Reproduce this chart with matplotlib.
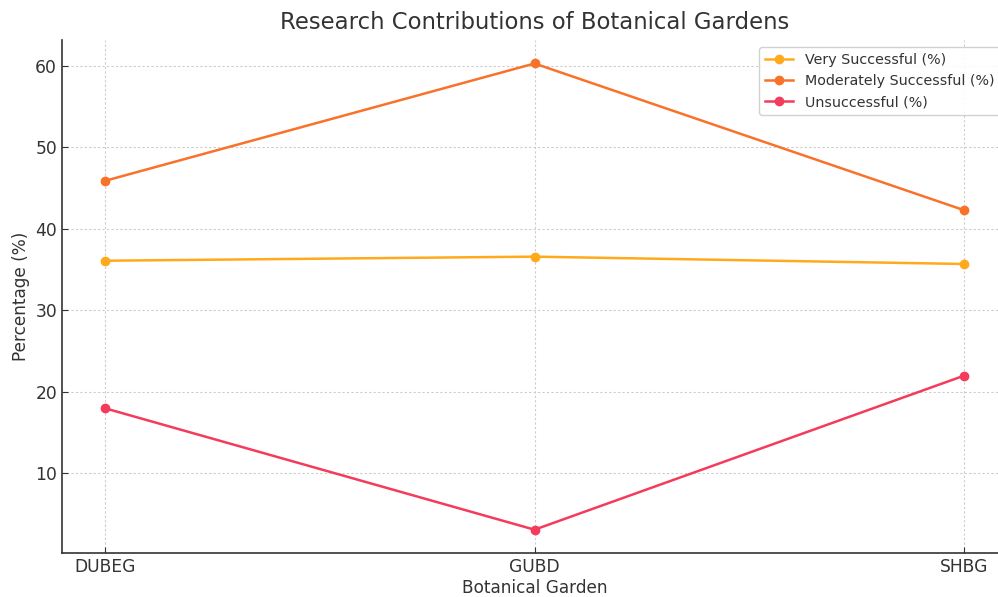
import matplotlib
matplotlib.use("Agg")
import matplotlib.pyplot as plt

gardens = ["DUBEG", "GUBD", "SHBG"]
very_successful = [36.1, 36.6, 35.7]
moderately_successful = [45.9, 60.3, 42.3]
unsuccessful = [18.0, 3.1, 22.0]

series = [
    ("Very Successful (%)", very_successful, "#FFAA1A"),
    ("Moderately Successful (%)", moderately_successful, "#F9722A"),
    ("Unsuccessful (%)", unsuccessful, "#F53B5C"),
]

text_color = "#333333"
plt.rcParams["font.family"] = "DejaVu Sans"

fig = plt.figure(figsize=(9.98, 5.97), dpi=100)
ax = fig.add_axes([0.0621, 0.0737, 0.947, 0.859])

for label, values, color in series:
    ax.plot(gardens, values, marker="o", markersize=6, linewidth=1.8,
            color=color, label=label)

ax.set_title("Research Contributions of Botanical Gardens", fontsize=16.4,
             color=text_color, pad=8)
ax.set_xlabel("Botanical Garden", fontsize=12.2, color=text_color, labelpad=2)
ax.set_ylabel("Percentage (%)", fontsize=12.2, color=text_color)

ax.grid(True, linestyle=(0, (2, 2)), color="#cccccc", linewidth=0.8)
ax.set_axisbelow(True)
ax.tick_params(direction="in", length=4, labelsize=12.3, colors=text_color,
               labelcolor=text_color)
for side in ("top", "right"):
    ax.spines[side].set_visible(False)
for side in ("left", "bottom"):
    ax.spines[side].set_color("#333333")
    ax.spines[side].set_linewidth(1.2)

ax.legend(loc="upper right", fontsize=10.3, frameon=True, framealpha=0.9,
          edgecolor="#cccccc", labelcolor=text_color)

fig.savefig("out.png", dpi=100)
